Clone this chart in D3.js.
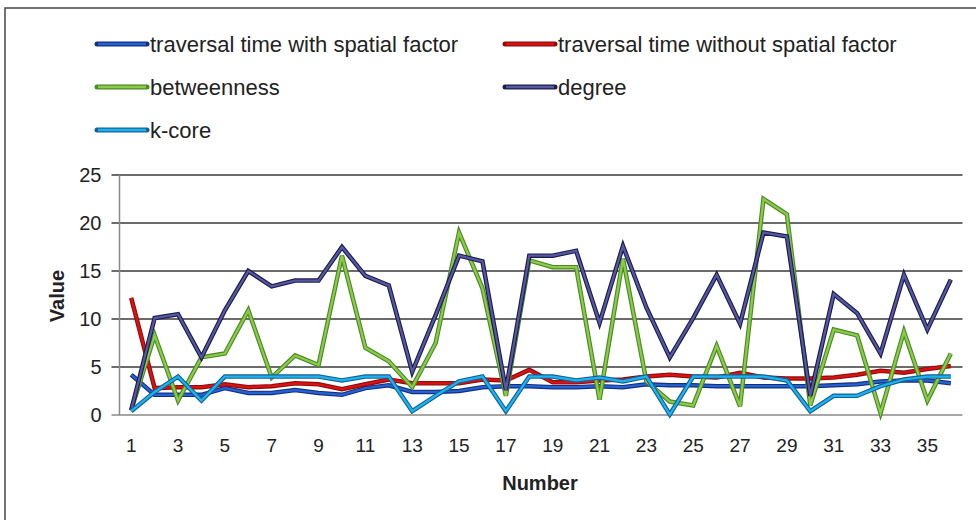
<!DOCTYPE html>
<html><head><meta charset="utf-8">
<script src="https://cdn.jsdelivr.net/npm/d3@7"></script>
<style>
html,body{margin:0;padding:0;background:#fff;}
svg{display:block;}
</style></head>
<body>
<svg id="chart" width="976" height="520"></svg>
<script>
const categories = d3.range(1, 37);
const withSpatial = [4.2,2.1,2.1,2.1,2.8,2.3,2.3,2.6,2.3,2.1,2.8,3.1,2.4,2.4,2.5,2.9,3.0,3.0,2.9,2.9,3.0,2.9,3.2,3.1,3.1,3.0,3.0,3.0,3.0,3.0,3.1,3.2,3.5,3.6,3.6,3.3];
const withoutSpatial = [12.2,2.8,2.9,2.9,3.2,2.9,3.0,3.3,3.2,2.7,3.2,3.7,3.3,3.3,3.3,3.7,3.6,4.7,3.4,3.4,3.6,3.7,4.0,4.2,4.0,3.9,4.4,3.9,3.8,3.8,3.9,4.2,4.6,4.4,4.8,5.1];
const betweenness = [0.5,8.3,1.5,6.0,6.4,10.9,3.9,6.2,5.2,16.6,7.0,5.6,2.9,7.5,19.0,13.2,2.0,16.1,15.4,15.4,1.6,16.3,3.5,1.4,1.0,7.2,0.9,22.5,20.9,1.0,8.9,8.3,0.2,8.7,1.5,6.4];
const degree = [0.5,10.1,10.5,6.0,10.9,15.0,13.4,14.0,14.0,17.5,14.5,13.5,4.5,10.4,16.6,16.0,2.6,16.6,16.6,17.1,9.6,17.6,11.2,6.0,10.1,14.6,9.5,19.0,18.6,2.0,12.6,10.6,6.4,14.6,8.9,14.1];
const kcore = [0.4,2.4,4.0,1.5,4.0,4.0,4.0,4.0,4.0,3.6,4.0,4.0,0.4,2.0,3.5,4.0,0.4,4.0,4.0,3.6,3.9,3.5,4.0,0.05,4.0,4.0,4.0,4.0,3.6,0.4,2.0,2.0,3.0,3.7,4.0,4.0];
const yTicks = [0,5,10,15,20,25];
const xTickLabels = categories.filter(d => d % 2 === 1);

const seriesNames = ["traversal time with spatial factor","traversal time without spatial factor","betweenness","degree","k-core"];
const seriesValues = [withSpatial, withoutSpatial, betweenness, degree, kcore];
const innerColors = ["#2462d6","#e01010","#8ccc45","#5658a4","#1cb4ec"];
const outerColors = ["#15307a","#8a1010","#4a8a2a","#1c1c48","#14609a"];

const svg = d3.select("#chart");
const font = "'Liberation Sans',Arial,sans-serif";

// outer frame
svg.append("path").attr("d","M5,520 L5,8 L976,8").attr("fill","none").attr("stroke","#444").attr("stroke-width",1.5);

const pLeft = 119.5, pRight = 962.5, pTop = 175, pBottom = 415;
const x = d3.scaleBand().domain(categories).range([pLeft, pRight]).padding(0);
const y = d3.scaleLinear().domain([0, 25]).range([pBottom, pTop]);
const cx = d => x(d) + x.bandwidth() / 2;

// gridlines
svg.append("g").selectAll("line").data(yTicks.filter(t => t > 0)).join("line")
  .attr("x1", pLeft - 8).attr("x2", pRight)
  .attr("y1", d => y(d)).attr("y2", d => y(d))
  .attr("stroke", "#3a3a3a").attr("stroke-width", 1.3);

// axes lines
svg.append("line").attr("x1", pLeft).attr("x2", pLeft).attr("y1", pTop).attr("y2", pBottom).attr("stroke","#888").attr("stroke-width",1.5);
svg.append("line").attr("x1", pLeft - 8).attr("x2", pRight).attr("y1", pBottom).attr("y2", pBottom).attr("stroke","#888").attr("stroke-width",1.5);

// y tick labels
const yAxis = d3.axisLeft(y).tickValues(yTicks).tickSize(0).tickPadding(18);
const gy = svg.append("g").attr("transform", `translate(${pLeft},0)`).call(yAxis);
gy.select(".domain").remove();
gy.selectAll("text").attr("font-family", font).attr("font-size", 20).attr("fill", "#222");

// x tick labels
const xAxis = d3.axisBottom(x).tickValues(xTickLabels).tickSize(0).tickPadding(24);
const gx = svg.append("g").attr("transform", `translate(0,${pBottom})`).call(xAxis);
gx.select(".domain").remove();
gx.selectAll("text").attr("font-family", font).attr("font-size", 19).attr("fill", "#222");

// axis titles
svg.append("text").attr("x", 540).attr("y", 490).attr("text-anchor","middle")
  .attr("font-family", font).attr("font-weight","bold").attr("font-size", 20).attr("fill","#222").text("Number");
svg.append("text").attr("transform","translate(64,296) rotate(-90)").attr("text-anchor","middle")
  .attr("font-family", font).attr("font-weight","bold").attr("font-size", 20).attr("fill","#222").text("Value");

// lines
const line = d3.line().x((d,i) => cx(categories[i])).y(d => y(d));
const gl = svg.append("g");
seriesValues.forEach((vals, k) => {
  gl.append("path").attr("d", line(vals)).attr("fill","none")
    .attr("stroke", outerColors[k]).attr("stroke-width", 4.5).attr("stroke-linejoin","miter");
  gl.append("path").attr("d", line(vals)).attr("fill","none")
    .attr("stroke", innerColors[k]).attr("stroke-width", 2.2).attr("stroke-linejoin","miter");
});

// legend
const legendPos = [[97,44],[505,44],[97,87],[505,87],[97,130]];
const lg = svg.append("g");
seriesNames.forEach((name, k) => {
  const [lx, ly] = legendPos[k];
  lg.append("line").attr("x1", lx).attr("x2", lx + 50).attr("y1", ly).attr("y2", ly)
    .attr("stroke", outerColors[k]).attr("stroke-width", 5).attr("stroke-linecap","round");
  lg.append("line").attr("x1", lx + 1).attr("x2", lx + 49).attr("y1", ly).attr("y2", ly)
    .attr("stroke", innerColors[k]).attr("stroke-width", 2.4);
  lg.append("text").attr("x", lx + 53).attr("y", ly).attr("dy","0.35em")
    .attr("font-family", font).attr("font-size", 22).attr("fill","#222").text(name);
});
</script>
</body></html>
